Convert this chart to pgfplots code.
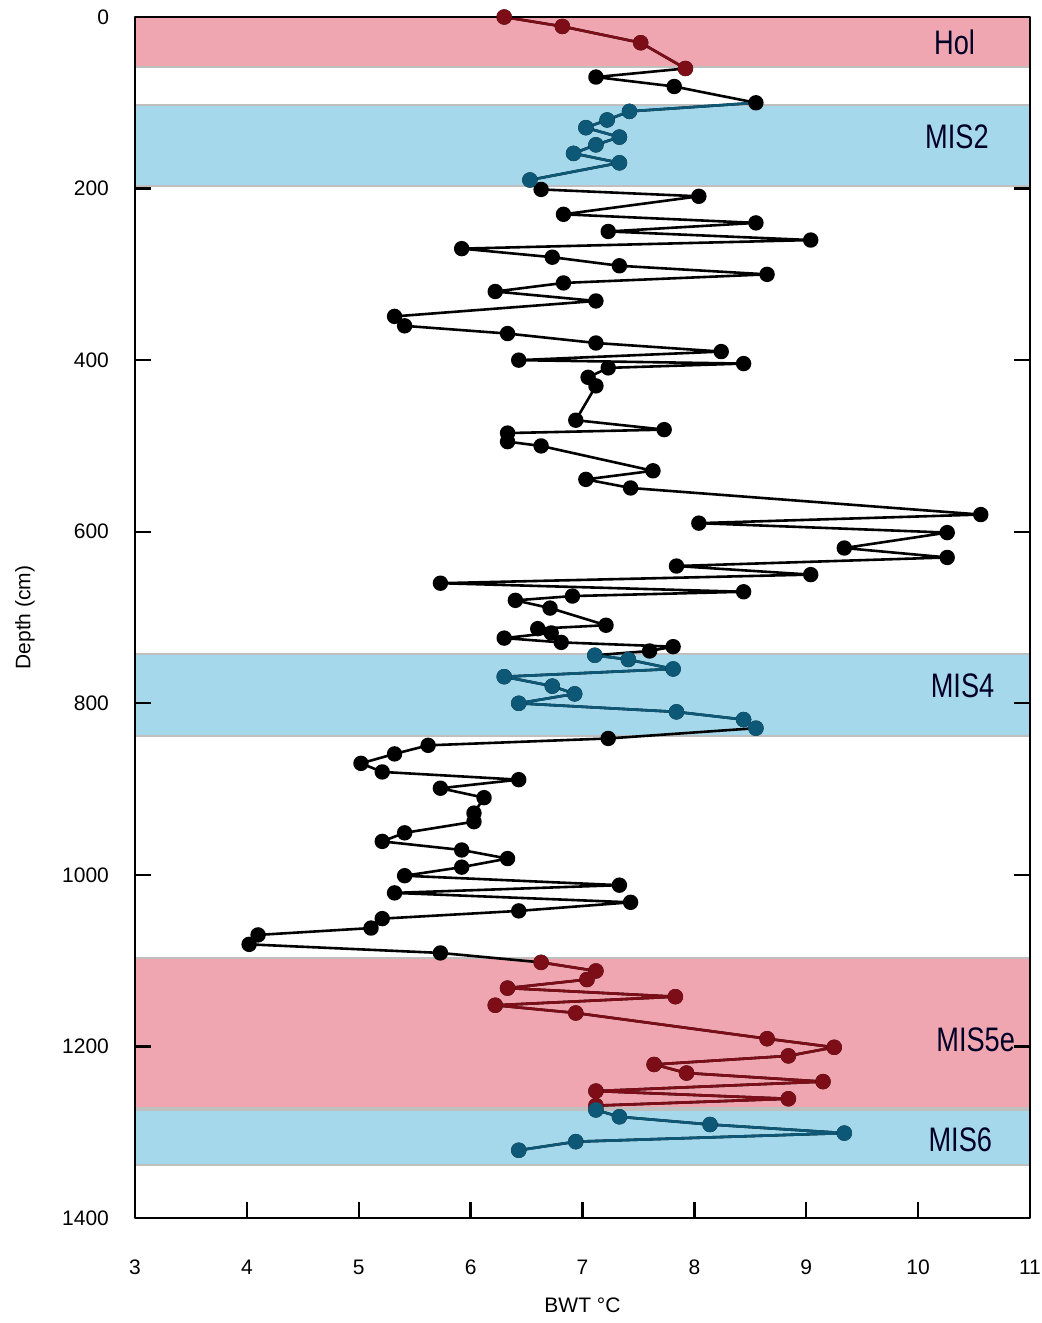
\documentclass[border=0pt]{standalone}
\usepackage{pgfplots}
\pgfplotsset{compat=1.18}
\usepackage{pgfplotstable}
\usepackage{fontspec}
\setmainfont{Liberation Sans}
\newfontfamily\labfont[FakeStretch=0.8]{Liberation Sans}
\definecolor{bandpink}{RGB}{239,166,177}
\definecolor{bandblue}{RGB}{166,216,236}
\definecolor{dred}{RGB}{125,14,24}
\definecolor{dteal}{RGB}{12,88,118}

\pgfplotstableread{
x y
6.30 0
6.82 11
7.52 30
7.92 60
7.12 70
7.82 81
8.55 100
7.42 110
7.22 120
7.03 129
7.33 140
7.12 149
6.92 159
7.33 170
6.53 190
6.63 201
8.04 209
6.83 230
8.55 240
7.23 250
9.04 260
5.92 270
6.73 280
7.33 290
8.65 300
6.83 310
6.22 320
7.12 331
5.32 349
5.41 360
6.33 369
7.12 380
8.24 390
6.43 400
8.44 404
7.23 409
7.05 420
7.12 430
6.94 470
7.73 481
6.33 485
6.33 495
6.63 500
7.63 529
7.03 539
7.43 549
10.56 580
8.04 590
10.26 601
9.34 619
10.26 630
7.84 640
9.04 650
5.73 660
8.44 670
6.91 675
6.40 680
6.71 689
7.21 709
6.60 713
6.72 718
6.30 724
6.81 729
7.81 734
7.60 739
7.11 744
7.41 749
7.81 760
6.30 769
6.73 780
6.93 789
6.43 800
7.84 810
8.44 819
8.55 829
7.23 841
5.62 849
5.32 859
5.02 870
5.21 880
6.43 889
5.73 899
6.12 910
6.03 928
6.03 938
5.41 951
5.21 961
5.92 971
6.33 981
5.92 991
5.41 1001
7.33 1012
5.32 1021
7.43 1032
6.43 1042
5.21 1051
5.11 1062
4.10 1070
4.02 1081
5.73 1091
6.63 1102
7.12 1112
7.04 1122
6.33 1132
7.83 1142
6.22 1152
6.94 1161
8.65 1191
9.25 1201
8.84 1211
7.64 1221
7.93 1231
9.15 1241
7.12 1252
8.84 1261
7.12 1269
7.12 1274
7.33 1282
8.14 1291
9.34 1301
6.94 1311
6.43 1321
}\alldata

\pgfplotstableread{
x y
6.30 0
6.82 11
7.52 30
7.92 60
}\hol

\pgfplotstableread{
x y
7.42 110
7.22 120
7.03 129
7.33 140
7.12 149
6.92 159
7.33 170
6.53 190
}\mistwo

\pgfplotstableread{
x y
8.55 100
7.42 110
}\mistwoin

\pgfplotstableread{
x y
7.11 744
7.41 749
7.81 760
6.30 769
6.73 780
6.93 789
6.43 800
7.84 810
8.44 819
8.55 829
}\misfour

\pgfplotstableread{
x y
6.63 1102
7.12 1112
7.04 1122
6.33 1132
7.83 1142
6.22 1152
6.94 1161
8.65 1191
9.25 1201
8.84 1211
7.64 1221
7.93 1231
9.15 1241
7.12 1252
8.84 1261
7.12 1269
}\misfive

\pgfplotstableread{
x y
7.12 1274
7.33 1282
8.14 1291
9.34 1301
6.94 1311
6.43 1321
}\missix

\begin{document}
\begin{tikzpicture}[line join=round]
\begin{axis}[
  width=447.5pt, height=600.5pt, scale only axis,
  xmin=3, xmax=11, ymin=0, ymax=1400, y dir=reverse,
  xtick={3,4,...,11}, ytick={0,200,...,1400},
  tick align=inside, xtick pos=bottom, ytick pos=both,
  major tick length=8pt,
  every tick/.style={black, line width=1.2pt},
  axis line style={line width=1.2pt},
  tick label style={font=\fontsize{10.5}{12}\selectfont},
  /pgf/number format/assume math mode=true,
  /pgf/number format/1000 sep={},
  xticklabel style={yshift=-17.5pt},
  yticklabel style={xshift=-9.5pt},
  xlabel={BWT °C}, ylabel={Depth (cm)},
  label style={font=\fontsize{10.5}{12}\selectfont},
  xlabel style={at={(axis description cs:0.5,0)}, anchor=center, yshift=-43.5pt},
  ylabel style={at={(axis description cs:-0.123,0.5)}, anchor=center},
  clip=false, axis on top,
  every axis plot/.append style={line join=round},
]
% bands
\addplot[fill=bandpink, draw=black!25, line width=1pt] coordinates {(3,0) (11,0) (11,58) (3,58) (3,0)};
\addplot[fill=bandblue, draw=black!25, line width=1pt] coordinates {(3,102) (11,102) (11,197) (3,197) (3,102)};
\addplot[fill=bandblue, draw=black!25, line width=1pt] coordinates {(3,742) (11,742) (11,838) (3,838) (3,742)};
\addplot[fill=bandpink, draw=black!25, line width=1pt] coordinates {(3,1097) (11,1097) (11,1272) (3,1272) (3,1097)};
\addplot[fill=bandblue, draw=black!25, line width=1pt] coordinates {(3,1274) (11,1274) (11,1338) (3,1338) (3,1274)};
% data
\addplot[black, line width=1.3pt, mark=*, mark size=3.2pt, mark options={solid}] table {\alldata};
\addplot[dteal, line width=1.3pt] table {\mistwoin};
\addplot[dred, line width=1.3pt, mark=*, mark size=3.2pt] table {\hol};
\addplot[dteal, line width=1.3pt, mark=*, mark size=3.2pt] table {\mistwo};
\addplot[dteal, line width=1.3pt, mark=*, mark size=3.2pt] table {\misfour};
\addplot[dred, line width=1.3pt, mark=*, mark size=3.2pt] table {\misfive};
\addplot[dteal, line width=1.3pt, mark=*, mark size=3.2pt] table {\missix};
% labels
\node[anchor=west, font={\labfont\fontsize{17}{20}\selectfont}, text=black!85!blue] at (axis cs:10.08,29) {Hol};
\node[anchor=west, font={\labfont\fontsize{17}{20}\selectfont}, text=black!85!blue] at (axis cs:10.0,140) {MIS2};
\node[anchor=west, font={\labfont\fontsize{17}{20}\selectfont}, text=black!85!blue] at (axis cs:10.05,780) {MIS4};
\node[anchor=west, font={\labfont\fontsize{17}{20}\selectfont}, text=black!85!blue] at (axis cs:10.1,1192) {MIS5e};
\node[anchor=west, font={\labfont\fontsize{17}{20}\selectfont}, text=black!85!blue] at (axis cs:10.03,1309) {MIS6};
\end{axis}
\pgfresetboundingbox
\path[use as bounding box] ([xshift=-67.5pt,yshift=-52.5pt]current axis.south west) rectangle ([xshift=6pt,yshift=8.5pt]current axis.north east);
\end{tikzpicture}
\end{document}
